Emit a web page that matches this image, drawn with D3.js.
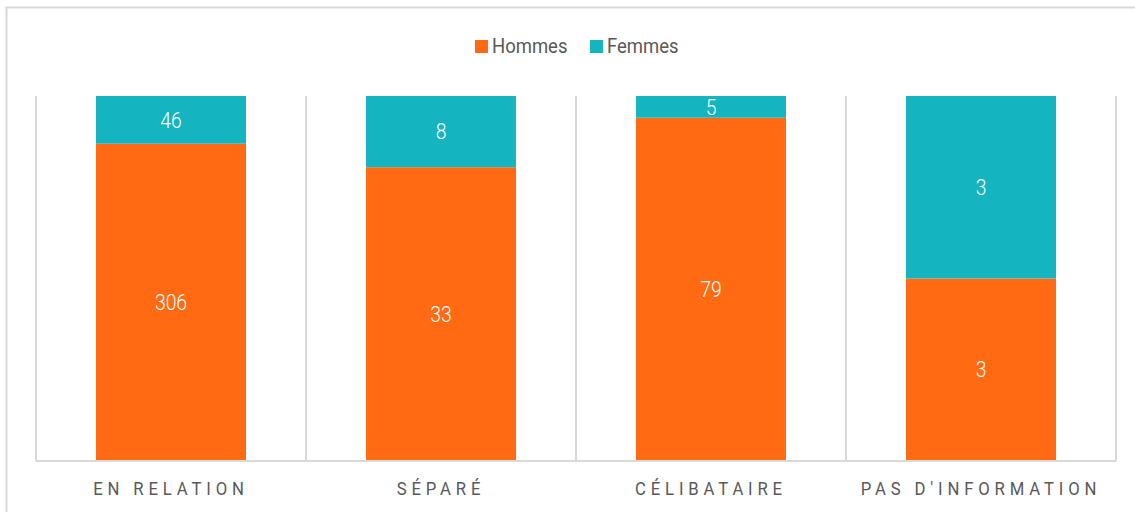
<!DOCTYPE html>
<html>
<head>
<meta charset="utf-8">
<script src="https://cdn.jsdelivr.net/npm/d3@7"></script>
<style>
  body { margin: 0; background: #fff; }
  svg { display: block; }
</style>
</head>
<body>
<script>
var categories = ['EN RELATION', 'SÉPARÉ', 'CÉLIBATAIRE', "PAS D'INFORMATION"];
var hommes = [306, 33, 79, 3];
var femmes = [46, 8, 5, 3];
var seriesNames = ['Hommes', 'Femmes'];
var colors = ['#FF6A13', '#14B4C1'];

var W = 1135, H = 512;
var margin = { top: 96, right: 19, bottom: 51, left: 36 },
    width = W - margin.left - margin.right,
    height = H - margin.top - margin.bottom;

var fontLight = 'Roboto, "Liberation Sans", sans-serif';
var squeeze = 0.88;

var svg = d3.select('body').append('svg')
  .attr('width', W)
  .attr('height', H);

// outer chart border
svg.append('rect')
  .attr('x', 6.5).attr('y', 7.5)
  .attr('width', W + 10).attr('height', H + 10)
  .attr('fill', 'none')
  .attr('stroke', '#d9d9d9')
  .attr('stroke-width', 2);

var g = svg.append('g')
  .attr('transform', 'translate(' + margin.left + ',' + margin.top + ')');

var table = categories.map(function(c, i) {
  var total = hommes[i] + femmes[i];
  return { cat: c, Hommes: hommes[i] / total, Femmes: femmes[i] / total,
           raw: { Hommes: hommes[i], Femmes: femmes[i] } };
});

var stack = d3.stack().keys(seriesNames)(table);

var x = d3.scaleBand().domain(categories).range([0, width]).paddingInner(0).paddingOuter(0);
var y = d3.scaleLinear().domain([0, 1]).range([height, 0]);
var barW = x.bandwidth() * 150 / 270;

// vertical gridlines at category boundaries
var bounds = categories.map(function(c) { return x(c); }).concat([width]);
g.selectAll('.grid')
  .data(bounds)
  .enter().append('line')
  .attr('x1', function(d) { return d; })
  .attr('x2', function(d) { return d; })
  .attr('y1', 0).attr('y2', height)
  .attr('stroke', '#d9d9d9')
  .attr('stroke-width', 2);

var layers = g.selectAll('.layer')
  .data(stack)
  .enter().append('g')
  .attr('fill', function(d, i) { return colors[i]; });

layers.selectAll('rect')
  .data(function(d) { return d; })
  .enter().append('rect')
  .attr('x', function(d) { return x(d.data.cat) + (x.bandwidth() - barW) / 2; })
  .attr('y', function(d) { return y(d[1]); })
  .attr('width', barW)
  .attr('height', function(d) { return y(d[0]) - y(d[1]); });

layers.each(function(s) {
  d3.select(this).selectAll('text')
    .data(s)
    .enter().append('text')
    .attr('transform', function(d) {
      var cx = x(d.data.cat) + x.bandwidth() / 2;
      var cy = (y(d[0]) + y(d[1])) / 2;
      return 'translate(' + cx + ',' + cy + ') scale(' + squeeze + ',1)';
    })
    .attr('dy', '0.35em')
    .attr('text-anchor', 'middle')
    .attr('fill', '#fff')
    .style('font-family', fontLight)
    .style('font-weight', 300)
    .style('font-size', '22px')
    .text(function(d) { return d.data.raw[s.key]; });
});

// x axis baseline
g.append('line')
  .attr('x1', 0).attr('x2', width)
  .attr('y1', height).attr('y2', height)
  .attr('stroke', '#d9d9d9')
  .attr('stroke-width', 2);

g.selectAll('.xlabel')
  .data(categories)
  .enter().append('text')
  .attr('transform', function(d) {
    return 'translate(' + (x(d) + x.bandwidth() / 2) + ',' + (height + 34) + ') scale(' + squeeze + ',1)';
  })
  .attr('text-anchor', 'middle')
  .attr('fill', '#595959')
  .style('font-family', fontLight)
  .style('font-size', '19px')
  .style('letter-spacing', '5.5px')
  .text(function(d) { return d; });

// legend
var legend = svg.append('g').attr('transform', 'translate(475, 46)');
var lx = [0, 115];
seriesNames.forEach(function(n, i) {
  legend.append('rect')
    .attr('x', lx[i]).attr('y', -6)
    .attr('width', 13).attr('height', 13)
    .attr('fill', colors[i]);
  legend.append('text')
    .attr('transform', 'translate(' + (lx[i] + 17) + ',0) scale(' + squeeze + ',1)')
    .attr('dy', '0.35em')
    .attr('fill', '#595959')
    .style('font-family', fontLight)
    .style('font-size', '21px')
    .text(n);
});
</script>
</body>
</html>
